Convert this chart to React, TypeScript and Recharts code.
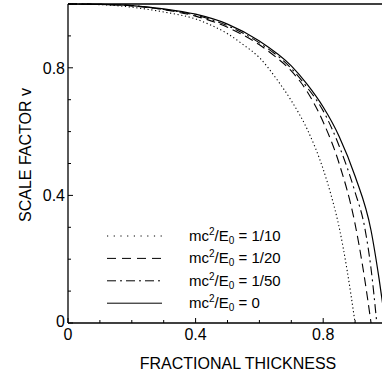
import { Line, LineChart, XAxis, YAxis } from "recharts";

// fractional thickness grid per curve, and scale factor
const t10 = [0, 0.1, 0.2, 0.3, 0.4, 0.45, 0.5, 0.55, 0.6, 0.65, 0.7, 0.75, 0.8, 0.825, 0.85, 0.875, 0.9];
const v10 = [1, 0.998, 0.99, 0.975, 0.953, 0.933, 0.907, 0.872, 0.832, 0.77, 0.697, 0.607, 0.482, 0.4, 0.3, 0.165, 0];

const t20 = [0, 0.1, 0.2, 0.3, 0.4, 0.5, 0.6, 0.65, 0.7, 0.75, 0.8, 0.85, 0.9, 0.925, 0.95];
const v20 = [1, 0.999, 0.994, 0.982, 0.962, 0.927, 0.872, 0.835, 0.79, 0.725, 0.63, 0.5, 0.31, 0.17, 0];

const t50 = [0, 0.1, 0.2, 0.3, 0.4, 0.5, 0.6, 0.7, 0.75, 0.8, 0.85, 0.9, 0.93, 0.95, 0.968];
const v50 = [1, 0.999, 0.995, 0.983, 0.965, 0.932, 0.878, 0.798, 0.738, 0.665, 0.555, 0.41, 0.3, 0.17, 0];

const t0 = [0, 0.1, 0.2, 0.3, 0.4, 0.5, 0.6, 0.7, 0.75, 0.8, 0.85, 0.9, 0.95, 0.975, 0.995];
const v0 = [1, 0.999, 0.995, 0.985, 0.968, 0.937, 0.884, 0.806, 0.748, 0.677, 0.585, 0.46, 0.29, 0.14, 0];

const legendLabels = ["1/10", "1/20", "1/50", "0"];

const xTicks = [0, 0.1, 0.2, 0.3, 0.4, 0.5, 0.6, 0.7, 0.8, 0.9, 1];
const yTicks = [0, 0.1, 0.2, 0.3, 0.4, 0.5, 0.6, 0.7, 0.8, 0.9, 1];
const majorTicks = [0, 0.4, 0.8];
const majorLabels = ["0", "0.4", "0.8"];

const zip = (t: number[], v: number[]) => t.map((x, i) => ({ t: x, v: v[i] }));

const series = [
  { data: zip(t10, v10), dash: "1.2 2.6", legendDash: "1.2 5.5", width: 1.1 },
  { data: zip(t20, v20), dash: "9 5", legendDash: "9 6", width: 1.1 },
  { data: zip(t50, v50), dash: "9 4 2 4", legendDash: "9 4 2 4", width: 1.1 },
  { data: zip(t0, v0), dash: undefined, legendDash: undefined, width: 1.2 },
];

const FONT = "'Liberation Sans', Arial, sans-serif";

const tickLabel = (v: number) => majorLabels[majorTicks.indexOf(v)];

function BottomTick({ x, y, payload }: any) {
  const major = majorTicks.includes(payload.value);
  return (
    <g>
      <line x1={x} x2={x} y1={y} y2={y - (major ? 5 : 3)} stroke="#000" strokeWidth={1} />
      {major && (
        <text x={x} y={y + 17} textAnchor="middle" fontSize={16} fill="#000">
          {tickLabel(payload.value)}
        </text>
      )}
    </g>
  );
}

function TopTick({ x, y, payload }: any) {
  const major = majorTicks.includes(payload.value);
  return <line x1={x} x2={x} y1={y} y2={y + (major ? 5 : 3)} stroke="#000" strokeWidth={1} />;
}

function LeftTick({ x, y, payload }: any) {
  const major = majorTicks.includes(payload.value);
  return (
    <g>
      <line x1={x} x2={x + (major ? 5 : 3)} y1={y} y2={y} stroke="#000" strokeWidth={1} />
      {major && (
        <text x={x - 3} y={payload.value === 0 ? y + 4 : y + 6} textAnchor="end" fontSize={16} fill="#000">
          {tickLabel(payload.value)}
        </text>
      )}
    </g>
  );
}

export default function App() {
  return (
    <div
      style={{
        position: "absolute",
        left: 0,
        top: 0,
        width: 382,
        height: 377,
        overflow: "hidden",
        fontFamily: FONT,
        background: "#fff",
      }}
    >
      <LineChart width={392} height={377} margin={{ top: 3, right: 5, bottom: 0, left: 0 }}>
        <XAxis
          xAxisId="b"
          type="number"
          dataKey="t"
          domain={[0, 1]}
          ticks={xTicks}
          interval={0}
          height={54}
          tickSize={0}
          tickMargin={0}
          tickLine={false}
          tick={<BottomTick />}
          axisLine={{ stroke: "#000", strokeWidth: 1.3 }}
          label={{
            content: () => (
              <text x={238} y={369} textAnchor="middle" fontSize={16} fill="#000">
                FRACTIONAL THICKNESS
              </text>
            ),
          }}
        />
        <XAxis
          xAxisId="t"
          orientation="top"
          type="number"
          domain={[0, 1]}
          ticks={xTicks}
          interval={0}
          height={1}
          tickSize={0}
          tickMargin={0}
          tickLine={false}
          tick={<TopTick />}
          axisLine={{ stroke: "#000", strokeWidth: 1.3 }}
        />
        <YAxis
          type="number"
          domain={[0, 1]}
          ticks={yTicks}
          interval={0}
          width={68}
          tickSize={0}
          tickMargin={0}
          tickLine={false}
          tick={<LeftTick />}
          axisLine={{ stroke: "#000", strokeWidth: 1.3 }}
          label={{
            content: () => (
              <text x={31} y={155} textAnchor="middle" fontSize={16} fill="#000" transform="rotate(-90 31 155)">
                SCALE FACTOR v
              </text>
            ),
          }}
        />
        {series.map((s, i) => (
          <Line
            key={i}
            xAxisId="b"
            data={s.data}
            dataKey="v"
            type="monotone"
            stroke="#000"
            strokeWidth={s.width}
            strokeDasharray={s.dash}
            dot={false}
            activeDot={false}
            isAnimationActive={false}
          />
        ))}
      </LineChart>
      <svg width={382} height={377} style={{ position: "absolute", left: 0, top: 0, pointerEvents: "none" }}>
        {series.map((s, i) => {
          const y = 236 + i * 22.4;
          return (
            <g key={i}>
              <line x1={107} x2={162} y1={y} y2={y} stroke="#000" strokeWidth={1} strokeDasharray={s.legendDash} />
              <text x={189} y={y + 5} fontSize={15} fill="#000">
                mc
                <tspan dy={-6} fontSize={10}>2</tspan>
                <tspan dy={6}>/E</tspan>
                <tspan dy={3} fontSize={10}>0</tspan>
                <tspan dy={-3}>{" = " + legendLabels[i]}</tspan>
              </text>
            </g>
          );
        })}
      </svg>
    </div>
  );
}
